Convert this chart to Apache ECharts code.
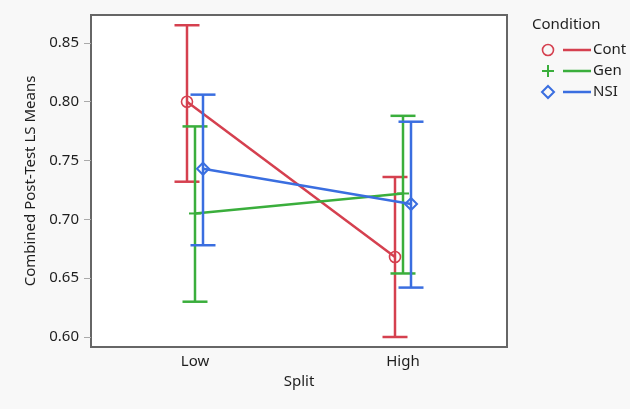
<!DOCTYPE html>
<html><head><meta charset="utf-8">
<script src="https://cdn.jsdelivr.net/npm/echarts@6/dist/echarts.min.js"></script>
<style>html,body{margin:0;padding:0;background:#f8f8f8}#c{width:630px;height:409px}</style>
</head><body><div id="c"></div>
<script>
const categories = ['Low', 'High'];
const yTicks = [0.60, 0.65, 0.70, 0.75, 0.80, 0.85];
const conditions = ['Cont', 'Gen', 'NSI'];
const contMean = [0.800, 0.668];
const contLower = [0.732, 0.600];
const contUpper = [0.865, 0.736];
const genMean = [0.705, 0.722];
const genLower = [0.630, 0.654];
const genUpper = [0.779, 0.788];
const nsiMean = [0.743, 0.713];
const nsiLower = [0.678, 0.642];
const nsiUpper = [0.806, 0.783];

const RED = '#d5404f', GREEN = '#3aae3c', BLUE = '#3a6ee0';
const FONT = 'Noto Sans';
const FS = 15;

function markerShape(kind, x, y, color) {
  if (kind === 'circle') return {type:'circle', shape:{cx:x, cy:y, r:5.5}, style:{fill:'none', stroke:color, lineWidth:1.6}};
  if (kind === 'diamond') return {type:'polygon', shape:{points:[[x,y-6],[x+6,y],[x,y+6],[x-6,y]]}, style:{fill:'none', stroke:color, lineWidth:2}};
  return {type:'group', children:[
    {type:'line', shape:{x1:x-6,y1:y,x2:x+6,y2:y}, style:{stroke:color, lineWidth:2}},
    {type:'line', shape:{x1:x,y1:y-6,x2:x,y2:y+6}, style:{stroke:color, lineWidth:2}}
  ]};
}

function makeSeries(name, color, mean, lower, upper, offset, kind) {
  return {
    type: 'custom', name: name,
    data: categories.map((c, i) => [i, mean[i], lower[i], upper[i]]),
    renderItem: function (params, api) {
      const i = api.value(0);
      const m = api.coord([i, api.value(1)]);
      const lo = api.coord([i, api.value(2)]);
      const hi = api.coord([i, api.value(3)]);
      const x = m[0] + offset;
      const cw = 12.5;
      const st = {stroke: color, lineWidth: 2.5};
      const children = [
        {type:'line', shape:{x1:x, y1:lo[1], x2:x, y2:hi[1]}, style:st},
        {type:'line', shape:{x1:x-cw, y1:lo[1], x2:x+cw, y2:lo[1]}, style:st},
        {type:'line', shape:{x1:x-cw, y1:hi[1], x2:x+cw, y2:hi[1]}, style:st},
      ];
      if (i === 0) {
        const n = api.coord([1, mean[1]]);
        children.push({type:'line', shape:{x1:x, y1:m[1], x2:n[0]+offset, y2:n[1]}, style:{stroke:color, lineWidth:2.5}});
      }
      children.push(markerShape(kind, x, m[1], color));
      return {type:'group', children: children};
    }
  };
}

function legendRow(label, color, kind, y) {
  return [
    markerShape(kind, 548, y, color),
    {type:'line', shape:{x1:563, y1:y, x2:591, y2:y}, style:{stroke:color, lineWidth:2.5}},
    {type:'text', x:593, y:y, style:{text:label, fill:'#1e1e1e', font:FS + 'px "Noto Sans"', verticalAlign:'middle'}}
  ];
}

const chart = echarts.init(document.getElementById('c'));
chart.setOption({
  backgroundColor: '#f8f8f8',
  animation: false,
  grid: {left: 91, top: 15, right: 123, bottom: 62, show: true, backgroundColor: '#fff', borderColor: '#666', borderWidth: 2},
  xAxis: {
    type: 'category', data: categories,
    name: 'Split', nameLocation: 'middle', nameGap: 27,
    nameTextStyle: {fontFamily: FONT, fontSize: FS, color: '#1e1e1e'},
    axisLine: {show: false}, axisTick: {show: false},
    axisLabel: {fontFamily: FONT, fontSize: FS, color: '#1e1e1e', margin: 7},
    splitLine: {show: false}
  },
  yAxis: {
    type: 'value', min: 0.5915, max: 0.8737,
    name: 'Combined Post-Test LS Means', nameLocation: 'middle', nameGap: 51,
    nameTextStyle: {fontFamily: FONT, fontSize: FS, color: '#1e1e1e'},
    axisLine: {show: false},
    axisTick: {show: true, length: 7, lineStyle: {color: '#aaa'}, customValues: yTicks},
    axisLabel: {fontFamily: FONT, fontSize: FS, color: '#1e1e1e', margin: 12, customValues: yTicks, formatter: v => v.toFixed(2)},
    splitLine: {show: false}
  },
  series: [
    makeSeries('Cont', RED, contMean, contLower, contUpper, -8, 'circle'),
    makeSeries('Gen', GREEN, genMean, genLower, genUpper, 0, 'plus'),
    makeSeries('NSI', BLUE, nsiMean, nsiLower, nsiUpper, 8, 'diamond')
  ],
  graphic: [
    {type:'text', x:532, y:25, style:{text:'Condition', fill:'#1e1e1e', font:FS + 'px "Noto Sans"', verticalAlign:'middle'}},
    ...legendRow(conditions[0], RED, 'circle', 50),
    ...legendRow(conditions[1], GREEN, 'plus', 71),
    ...legendRow(conditions[2], BLUE, 'diamond', 92)
  ]
});
</script></body></html>
